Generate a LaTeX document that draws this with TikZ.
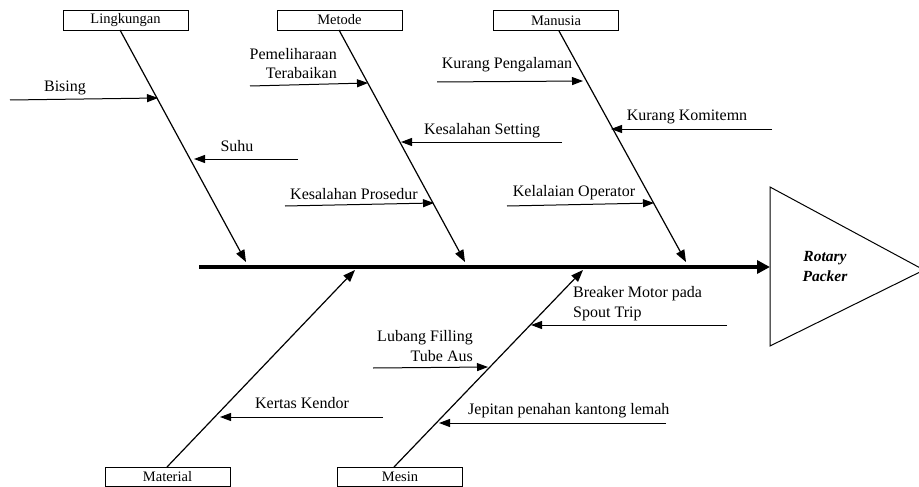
\documentclass[tikz,border=0pt]{standalone}
\usepackage{fontspec}
\setmainfont{Liberation Serif}
\usetikzlibrary{arrows.meta}
\begin{document}
\begin{tikzpicture}[x=1pt,y=-1pt,
  catbox/.style={draw,line width=0.8pt,minimum width=125pt,minimum height=20pt,inner sep=0pt,font=\fontsize{14.5}{17}\selectfont},
  bone/.style={line width=1.2pt,-{Triangle[length=12pt,width=9pt]}},
  subarrow/.style={line width=1pt,-{Triangle[length=11pt,width=8pt]}},
  lbl/.style={inner sep=0pt,font=\fontsize{16}{19.5}\selectfont},
  spine/.style={line width=3.5pt,-{Triangle[length=13pt,width=13pt]}}]
\useasboundingbox (0,0) rectangle (919,487);
% category boxes
\node[catbox] (ling) at (125.5,20) {Lingkungan};
\node[catbox] (meto) at (339.5,20) {Metode};
\node[catbox] (manu) at (556,20.5) {Manusia};
\node[catbox,minimum height=19.5pt] (mate) at (167.5,476.8) {Material};
\node[catbox,minimum height=19.5pt] (mesi) at (400,476.8) {Mesin};
% head
\coordinate (hT) at (770,187);
\coordinate (hA) at (924,270);
\coordinate (hB) at (770,346);
\draw[line width=1pt,line join=miter] (hT) -- (hA) -- (hB) -- cycle;
\node[lbl,font=\fontsize{15.5}{20}\selectfont\bfseries\itshape,align=center] (head) at (825,267) {Rotary\\Packer};
% spine
\coordinate (spS) at (199,267);
\coordinate (spE) at (770,267);
\draw[spine] (spS) -- (spE);
% bone endpoints
\coordinate (lingS) at (120,30);   \coordinate (lingE) at (246,262);
\coordinate (metoS) at (339,30);   \coordinate (metoE) at (465,262);
\coordinate (manuS) at (559,31);   \coordinate (manuE) at (686,262);
\coordinate (mateS) at (167,467);  \coordinate (mateE) at (355,270);
\coordinate (mesiS) at (394,467);  \coordinate (mesiE) at (583,270);
\draw[bone] (lingS) -- (lingE);
\draw[bone] (metoS) -- (metoE);
\draw[bone] (manuS) -- (manuE);
\draw[bone] (mateS) -- (mateE);
\draw[bone] (mesiS) -- (mesiE);
% sub-causes: Lingkungan
\coordinate (b1s) at (10,100);  \coordinate (b1e) at (158,98);
\draw[subarrow] (b1s) -- (b1e);
\node[lbl,anchor=base] (t1) at (65,92) {Bising};
\coordinate (b2s) at (298,159); \coordinate (b2e) at (194,159);
\draw[subarrow] (b2s) -- (b2e);
\node[lbl,anchor=base] (t2) at (237,151) {Suhu};
% Metode
\coordinate (b3s) at (250,86);  \coordinate (b3e) at (368,83);
\draw[subarrow] (b3s) -- (b3e);
\node[lbl,anchor=base east] (t3a) at (337,60) {Pemeliharaan};
\node[lbl,anchor=base east] (t3b) at (337,79) {Terabaikan};
\coordinate (b4s) at (562,142); \coordinate (b4e) at (401,142);
\draw[subarrow] (b4s) -- (b4e);
\node[lbl,anchor=base] (t4) at (482,134) {Kesalahan Setting};
\coordinate (b5s) at (285,206); \coordinate (b5e) at (434,203);
\draw[subarrow] (b5s) -- (b5e);
\node[lbl,anchor=base] (t5) at (354,199) {Kesalahan Prosedur};
% Manusia
\coordinate (b6s) at (437,82);  \coordinate (b6e) at (583,81);
\draw[subarrow] (b6s) -- (b6e);
\node[lbl,anchor=base] (t6) at (507,69) {Kurang Pengalaman};
\coordinate (b7s) at (772,129); \coordinate (b7e) at (611,129);
\draw[subarrow] (b7s) -- (b7e);
\node[lbl,anchor=base] (t7) at (687,121) {Kurang Komitemn};
\coordinate (b8s) at (507,206); \coordinate (b8e) at (654,203);
\draw[subarrow] (b8s) -- (b8e);
\node[lbl,anchor=base] (t8) at (574,196) {Kelalaian Operator};
% Material
\coordinate (b9s) at (383,417); \coordinate (b9e) at (220,417);
\draw[subarrow] (b9s) -- (b9e);
\node[lbl,anchor=base] (t9) at (302,408) {Kertas Kendor};
% Mesin
\coordinate (b10s) at (373,368); \coordinate (b10e) at (488,367);
\draw[subarrow] (b10s) -- (b10e);
\node[lbl,anchor=base east] (t10a) at (473,341) {Lubang Filling};
\node[lbl,anchor=base east] (t10b) at (473,361) {Tube Aus};
\coordinate (b11s) at (727,325); \coordinate (b11e) at (531,325);
\draw[subarrow] (b11s) -- (b11e);
\node[lbl,anchor=base west] (t11a) at (573,297) {Breaker Motor pada};
\node[lbl,anchor=base west] (t11b) at (573,317) {Spout Trip};
\coordinate (b12s) at (666,423); \coordinate (b12e) at (439,423);
\draw[subarrow] (b12s) -- (b12e);
\node[lbl,anchor=base west] (t12) at (468,414) {Jepitan penahan kantong lemah};
\end{tikzpicture}
\end{document}
